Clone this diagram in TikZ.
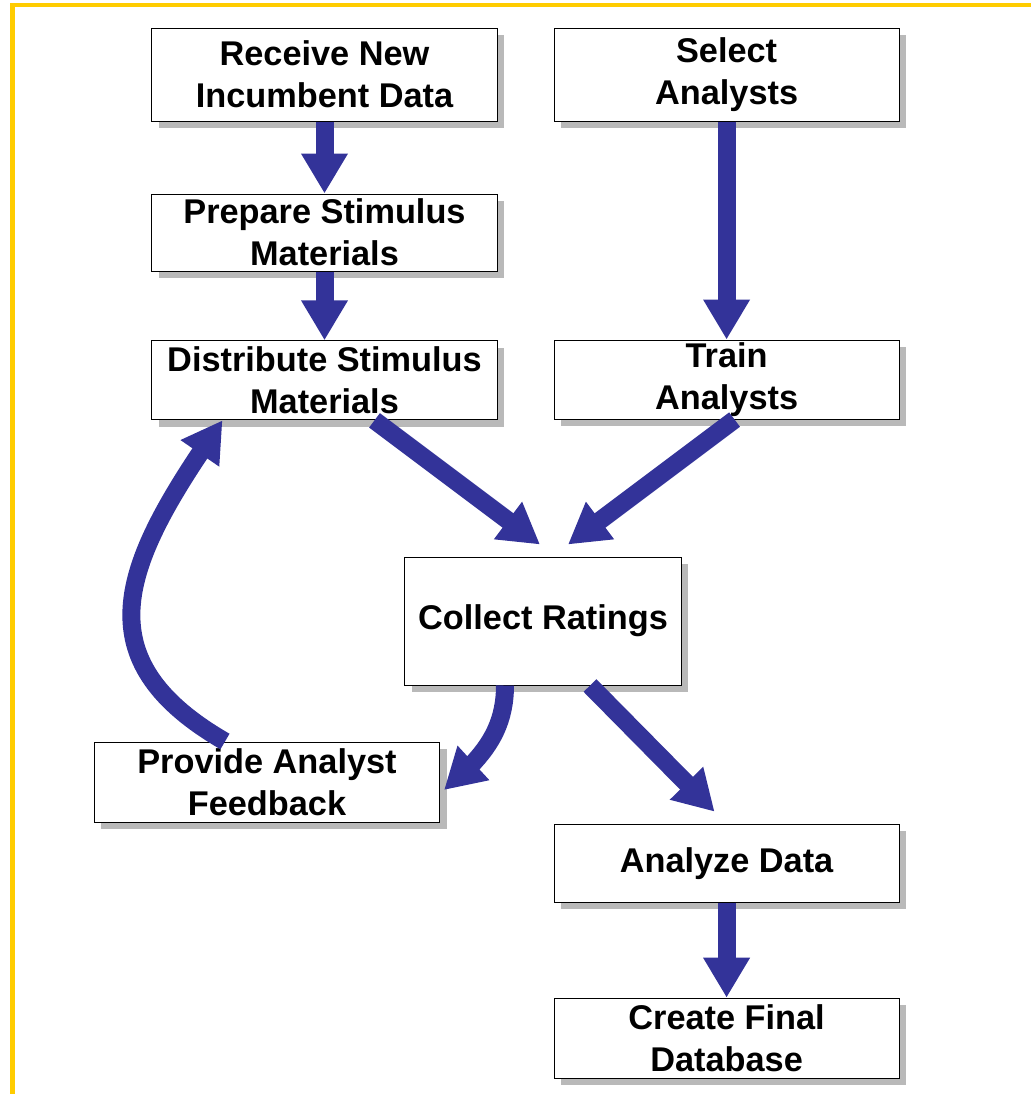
\documentclass[tikz,border=0pt]{standalone}
\usepackage{fontspec}
\setmainfont{Liberation Sans}
\usetikzlibrary{arrows.meta, positioning, shadows, bending}

\definecolor{flowblue}{HTML}{333399}
\definecolor{frameyellow}{HTML}{FFCC00}

\begin{document}
\begin{tikzpicture}[
        x=0.025cm, y=-0.025cm,
        stepbox/.style={
            rectangle,
            minimum width=8.625cm,
            minimum height=2cm,
            inner sep=0pt,
            align=center,
            draw=black,
            line width=0.7pt,
            fill=white,
            font=\fontsize{24.4}{30}\selectfont\bfseries,
            drop shadow={shadow xshift=0.175cm, shadow yshift=-0.175cm, fill=gray!55, opacity=1}
        },
        arrow/.style={
            draw=flowblue,
            line width=0.45cm,
            -{Triangle[length=1cm, width=1.1cm]}
        }
    ]
        \useasboundingbox (0,0) rectangle (1031,1094);
        \draw [frameyellow, line width=0.1cm] (12.5,1094) -- (12.5,5) -- (1031,5);

        \node (receive) [stepbox, minimum height=2.325cm] at (324.5,74.5) {Receive New\\Incumbent Data};
        \node (select) [stepbox, minimum height=2.325cm, right=1.4cm of receive] {Select\\Analysts};
        \node (prepare) [stepbox, minimum height=1.925cm, below=1.8cm of receive] {Prepare Stimulus\\Materials};
        \node (distribute) [stepbox, minimum height=1.975cm, below=1.72cm of prepare] {Distribute Stimulus\\Materials};
        \node (train) [stepbox, minimum height=1.975cm, below=5.45cm of select] {Train\\Analysts};
        \node (collect) [stepbox, minimum width=6.9cm, minimum height=3.2cm] at (543,621) {Collect Ratings};
        \node (feedback) [stepbox, minimum height=2cm] at (267,782) {Provide Analyst\\Feedback};
        \node (analyze) [stepbox, minimum height=1.95cm, below=10.1cm of train] {Analyze Data};
        \node (create) [stepbox, minimum height=2cm, below=2.375cm of analyze] {Create Final\\Database};

        \draw [arrow] (receive) -- (prepare);
        \draw [arrow] (prepare) -- (distribute);
        \draw [arrow] (select) -- (train);
        \draw [arrow] ([xshift=1.25cm]distribute.south) -- ([xshift=-0.075cm, yshift=0.3cm]collect.north);
        \draw [arrow] ([xshift=0.2cm]train.south) -- ([xshift=0.625cm, yshift=0.3cm]collect.north);
        \draw [arrow] ([xshift=1.175cm]collect.south) -- ([xshift=-0.3cm, yshift=0.3cm]analyze.north);
        \draw [arrow] (analyze) -- (create);
        \draw [arrow] ([xshift=-0.95cm]collect.south) to[out=-90, in=40] ([xshift=0.1cm, yshift=-0.2cm]feedback.east);
        \draw [arrow] ([xshift=-1.05cm]feedback.north) to[out=150, in=-125, looseness=1.35] ([xshift=-2.55cm]distribute.south);

    \end{tikzpicture}
\end{document}
